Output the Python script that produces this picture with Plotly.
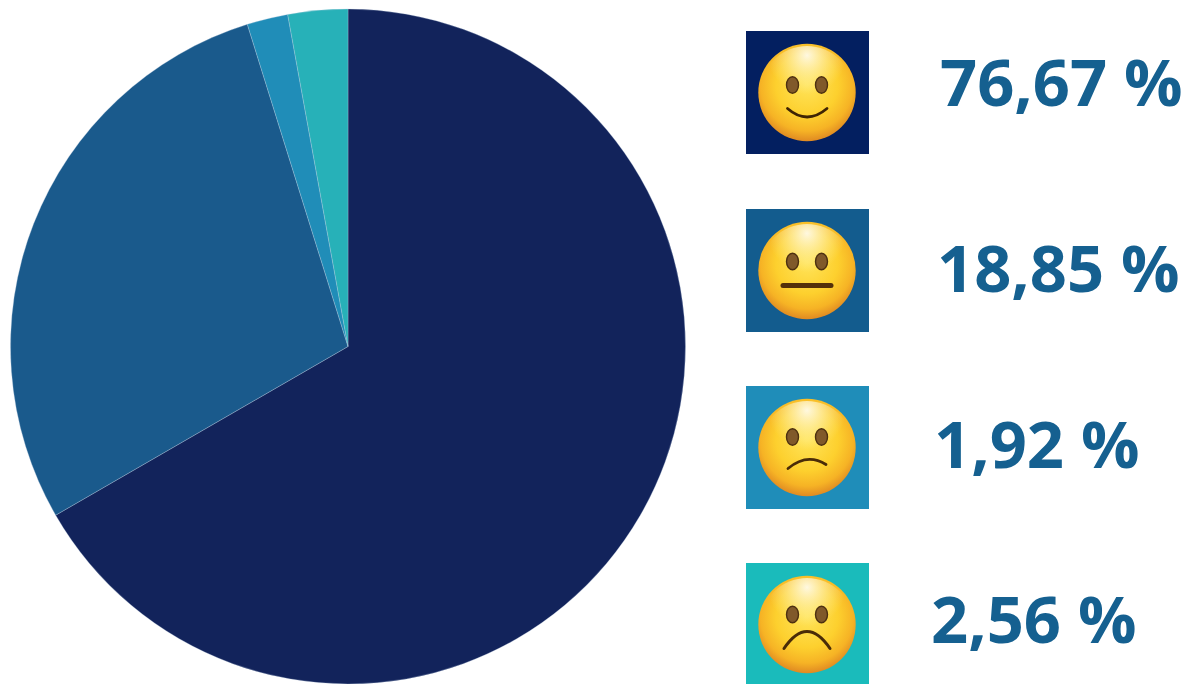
import base64
import plotly.graph_objects as go

W, H = 1187, 684

# Slice shares as drawn in the pie, clockwise from 12 o'clock
slice_names = ["Satisfied", "Neutral", "Unsatisfied", "Very unsatisfied"]
slice_values = [66.67, 28.51, 1.96, 2.86]
slice_colors = ["#12235B", "#1A5A8C", "#208DB8", "#27B1B8"]

# Labels printed beside the icons
label_texts = ["76,67 %", "18,85 %", "1,92 %", "2,56 %"]
label_left = [938, 935, 932, 929]
label_mid = [81, 267, 443, 618]

# Icons
icon_colors = ["#031F60", "#135C8E", "#1F8DB9", "#1ABBBB"]
icon_tops = [31, 209, 386, 563]
icon_heights = [123, 123, 123, 121]
eye_dy = [-7.5, -9, -10.5, -10]
mouths = [
    '<path d="M-19.5 16 Q0 33 20 16" fill="none" stroke="#3f2404" stroke-width="2.8" stroke-linecap="round"/>',
    '<path d="M-24 15 H24" fill="none" stroke="#54300a" stroke-width="5" stroke-linecap="round"/>',
    '<path d="M-19 21 Q0 5 19 17" fill="none" stroke="#4a2c08" stroke-width="2.8" stroke-linecap="round"/>',
    '<path d="M-23 24 Q0 -10 23 24" fill="none" stroke="#4a2c08" stroke-width="3" stroke-linecap="round"/>',
]


def icon_uri(bg, h, dy, mouth):
    cy = 61.5
    svg = f'''<svg xmlns="http://www.w3.org/2000/svg" width="123" height="{h}" viewBox="0 0 123 {h}">
<defs>
<radialGradient id="f" cx="50%" cy="42%" r="58%">
<stop offset="0" stop-color="#FFE45A"/><stop offset="0.55" stop-color="#FDD02E"/>
<stop offset="0.82" stop-color="#F6B325"/><stop offset="1" stop-color="#E08A22"/>
</radialGradient>
<radialGradient id="s" cx="50%" cy="10%" r="42%">
<stop offset="0" stop-color="#FFFFFF" stop-opacity="0.85"/><stop offset="1" stop-color="#FFF6B0" stop-opacity="0"/>
</radialGradient>
</defs>
<rect width="123" height="{h}" fill="{bg}"/>
<g transform="translate(61,{cy})">
<circle r="48.7" fill="url(#f)"/><circle r="46.5" fill="url(#s)"/>
<ellipse cx="-14.5" cy="{dy}" rx="6" ry="8.2" fill="#80592A" stroke="#4d3010" stroke-width="1.4"/>
<ellipse cx="14.5" cy="{dy}" rx="6" ry="8.2" fill="#80592A" stroke="#4d3010" stroke-width="1.4"/>
{mouth}
</g></svg>'''
    return "data:image/svg+xml;base64," + base64.b64encode(svg.encode()).decode()


fig = go.Figure(
    go.Pie(
        labels=slice_names,
        values=slice_values,
        sort=False,
        direction="clockwise",
        rotation=0,
        textinfo="none",
        hoverinfo="label+percent",
        marker=dict(colors=slice_colors, line=dict(color="rgba(190,205,225,0.3)", width=1)),
        domain=dict(x=[9.5 / W, 686.5 / W], y=[0, 1 - 9 / H]),
        showlegend=False,
    )
)

images = []
for bg, top, h, dy, mouth in zip(icon_colors, icon_tops, icon_heights, eye_dy, mouths):
    images.append(
        dict(
            source=icon_uri(bg, h, dy, mouth),
            xref="paper", yref="paper",
            x=746 / W, y=1 - top / H,
            sizex=123 / W, sizey=h / H,
            xanchor="left", yanchor="top",
            sizing="stretch", layer="above",
        )
    )

annotations = [
    dict(
        text=f"<b>{t}</b>",
        x=x / W, y=1 - m / H,
        xref="paper", yref="paper",
        xanchor="left", yanchor="middle",
        showarrow=False,
        font=dict(family="Open Sans", size=65, color="#156090"),
    )
    for t, x, m in zip(label_texts, label_left, label_mid)
]

fig.update_layout(
    width=W, height=H,
    margin=dict(l=0, r=0, t=0, b=0),
    paper_bgcolor="white",
    images=images,
    annotations=annotations,
)

fig.write_html(
    "out.html",
    config={"displayModeBar": False},
    post_script="document.body.style.margin='0';document.documentElement.style.overflow='hidden';",
)
